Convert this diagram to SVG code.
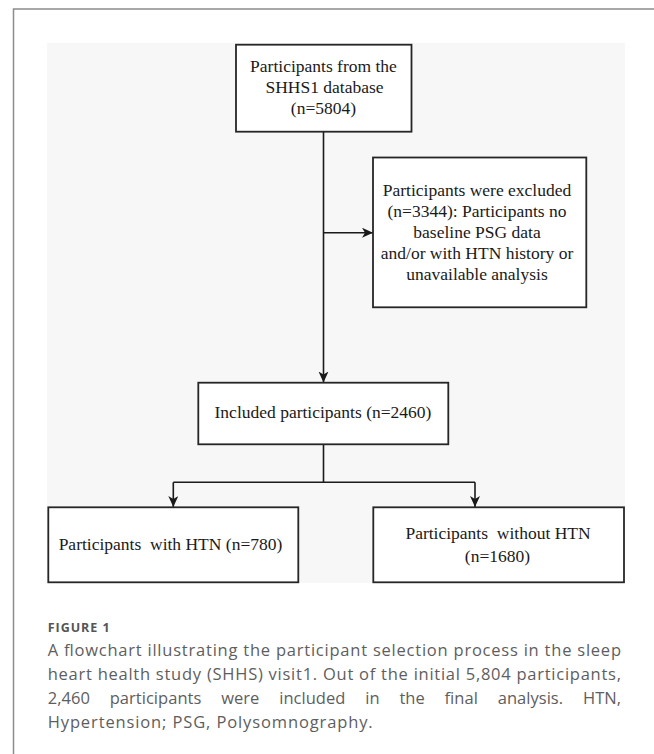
<svg xmlns="http://www.w3.org/2000/svg" width="654" height="754" viewBox="0 0 654 754">
  <style>
    .box { fill: #ffffff; stroke: #262626; stroke-width: 1.8; }
    .t { font-family: "Liberation Serif", "Times New Roman", serif; font-size: 17.5px; fill: #1a1a1a; text-anchor: middle; }
    .conn { fill: none; stroke: #1a1a1a; stroke-width: 1.6; }
    .cap { font-family: "Open Sans", "Noto Sans", sans-serif; font-size: 16.5px; fill: #5e5e5e; }
    .fig { font-family: "Open Sans", "Noto Sans", sans-serif; font-size: 12.5px; font-weight: bold; fill: #555555; }
  </style>
  <defs>
    <marker id="arr" markerUnits="userSpaceOnUse" markerWidth="12" markerHeight="11" refX="11" refY="5" orient="auto">
      <path d="M0,0 L11,5 L0,10 L3,5 z" fill="#1a1a1a"/>
    </marker>
  </defs>
  <rect x="0" y="0" width="654" height="754" fill="#ffffff"/>
  <path d="M13.5,754 V9 H654" fill="none" stroke="#8c8c8c" stroke-width="1.5"/>
  <rect x="47" y="43" width="578" height="540" fill="#f7f7f7"/>

  <g id="connectors">
    <line class="conn" x1="323.5" y1="132" x2="323.5" y2="382.5" marker-end="url(#arr)"/>
    <line class="conn" x1="323.5" y1="232.7" x2="373" y2="232.7" marker-end="url(#arr)"/>
    <polyline class="conn" points="323.5,444.5 323.5,482.3"/>
    <polyline class="conn" points="173.3,482.3 475,482.3"/>
    <line class="conn" x1="173.3" y1="482.3" x2="173.3" y2="507" marker-end="url(#arr)"/>
    <line class="conn" x1="475" y1="482.3" x2="475" y2="507" marker-end="url(#arr)"/>
  </g>

  <g id="node-source">
    <rect class="box" x="236" y="44.7" width="175.5" height="87"/>
    <text class="t" x="323.5" y="72.3">Participants from the</text>
    <text class="t" x="324.5" y="93.3">SHHS1 database</text>
    <text class="t" x="323.5" y="114.3">(n=5804)</text>
  </g>

  <g id="node-excluded">
    <rect class="box" x="373" y="157.5" width="213.3" height="149.8"/>
    <text class="t" x="477" y="195.5">Participants were excluded</text>
    <text class="t" x="477" y="216.5">(n=3344): Participants no</text>
    <text class="t" x="477" y="237.5">baseline PSG data</text>
    <text class="t" x="477" y="258.5">and/or with HTN history or</text>
    <text class="t" x="477" y="279.5">unavailable analysis</text>
  </g>

  <g id="node-included">
    <rect class="box" x="198.3" y="382.7" width="250" height="61.6"/>
    <text class="t" x="323" y="418.2">Included participants (n=2460)</text>
  </g>

  <g id="node-htn">
    <rect class="box" x="48.3" y="507.3" width="250" height="75"/>
    <text class="t" x="170.5" y="549.8">Participants&#160; with HTN (n=780)</text>
  </g>

  <g id="node-nohtn">
    <rect class="box" x="373.3" y="507.3" width="250.7" height="75"/>
    <text class="t" x="498" y="538.8">Participants&#160; without HTN</text>
    <text class="t" x="497.5" y="561.8">(n=1680)</text>
  </g>

  <g id="caption">
    <text class="fig" x="47.7" y="632" textLength="62" lengthAdjust="spacing">FIGURE 1</text>
    <text class="cap" x="47.7" y="655.5" textLength="573.3" lengthAdjust="spacing">A flowchart illustrating the participant selection process in the sleep</text>
    <text class="cap" x="47.7" y="679.5" textLength="573.3" lengthAdjust="spacing">heart health study (SHHS) visit1. Out of the initial 5,804 participants,</text>
    <text class="cap" x="47.7" y="703.5" word-spacing="15.5" textLength="573.3" lengthAdjust="spacing">2,460 participants were included in the final analysis. HTN,</text>
    <text class="cap" x="47.7" y="727.5" textLength="325" lengthAdjust="spacing">Hypertension; PSG, Polysomnography.</text>
  </g>
</svg>
